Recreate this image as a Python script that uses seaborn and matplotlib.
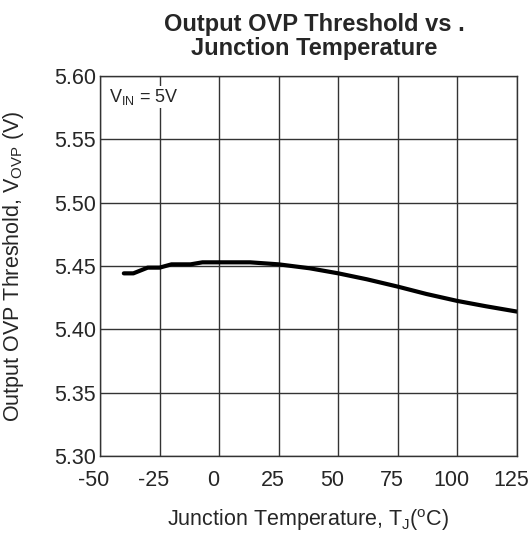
import numpy as np
import pandas as pd
import matplotlib
matplotlib.use('Agg')
import matplotlib.pyplot as plt
from matplotlib.transforms import ScaledTranslation
import seaborn as sns

# values
temp_c = [-40, -36, -30, -25, -20, -12, -7, 0, 13, 25, 38, 50, 62, 75, 87, 100, 112, 125]
vovp = [5.4442, 5.4442, 5.4487, 5.4487, 5.4513, 5.4513, 5.4529, 5.4529, 5.4529,
        5.4513, 5.4482, 5.4442, 5.4395, 5.4337, 5.4279, 5.4224, 5.4182, 5.4140]
x_ticks = [-50, -25, 0, 25, 50, 75, 100, 125]
y_ticks = [5.30, 5.35, 5.40, 5.45, 5.50, 5.55, 5.60]

sns.set_style('white')
plt.rcParams['font.family'] = ['Liberation Sans', 'DejaVu Sans']
plt.rcParams['mathtext.default'] = 'regular'
plt.rcParams['axes.unicode_minus'] = False

df = pd.DataFrame({'temp': temp_c, 'v': vovp})

fig = plt.figure(figsize=(5.32, 5.36), dpi=100)
ax = fig.add_axes([100 / 532, 1 - 456 / 536, 417 / 532, 380 / 536])
sns.lineplot(data=df, x='temp', y='v', color='black', linewidth=3.0, ax=ax)

ax.set_xlim(-50, 125)
ax.set_ylim(5.30, 5.60)
ax.set_xticks(x_ticks)
ax.set_yticks(y_ticks)
ax.set_xticklabels([str(t) for t in x_ticks])
ax.set_yticklabels([f'{t:.2f}' for t in y_ticks])
ax.tick_params(axis='x', length=0, labelsize=15.5, pad=10)
ax.tick_params(axis='y', length=0, labelsize=15.5, pad=3)
shift = ScaledTranslation(-6 / 100, 0, fig.dpi_scale_trans)
for lab in ax.get_xticklabels():
    lab.set_transform(lab.get_transform() + shift)
ax.grid(True, color='#333333', linewidth=1.0)
ax.set_axisbelow(True)
for s in ax.spines.values():
    s.set_color('#333333')
    s.set_linewidth(1.0)

ax.set_xlabel('Junction Temperature, T$_J$($^o$C)', fontsize=15.5, va='center')
ax.xaxis.set_label_coords(0.5, (456 - 520) / 380)
ax.set_ylabel('Output OVP Threshold, V$_{OVP}$ (V)', fontsize=15.5, va='center')
ax.yaxis.set_label_coords((14 - 100) / 417, 0.5)
ax.set_title('Output OVP Threshold vs .\nJunction Temperature', fontsize=17,
             fontweight='bold', pad=15, linespacing=1.05, x=0.5 + 6 / 417)
ax.text(-46.2, 5.5834, 'V$_{IN}$ = 5V', fontsize=13, va='center', ha='left',
        bbox=dict(facecolor='white', edgecolor='none', pad=1))

fig.savefig('out.png', dpi=100)
